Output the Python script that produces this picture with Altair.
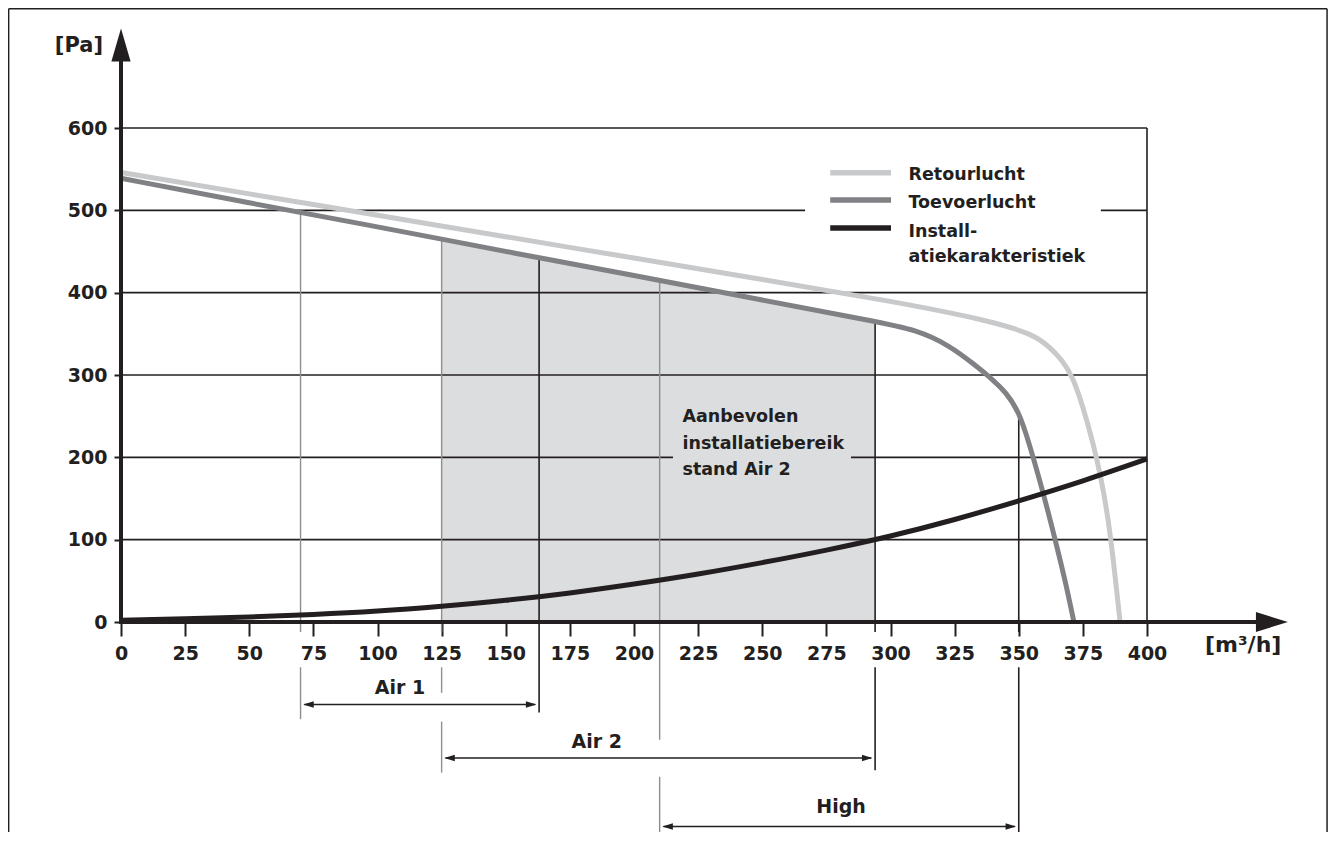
import altair as alt
import pandas as pd

FONT = "DejaVu Sans"
INK = "#231f20"
SHADE = "#dcdddf"
GRAYLINE = "#8d8e91"

# ---------------- data ----------------
series_names = ["Retourlucht", "Toevoerlucht", "Installatiekarakteristiek"]
series_colors = ["#c8c9cb", "#808184", "#231f20"]
legend_text = ["Retourlucht", "Toevoerlucht", "Install-\natiekarakteristiek"]

retour_x = [0, 50, 100, 150, 200, 250, 300, 339, 356, 362, 367, 371, 375, 379, 382, 385.5, 389.5]
retour_y = [546, 520, 494, 468, 442, 416, 390, 366, 349, 334, 318, 298, 262, 217, 177, 116, 0]

toevoer_x = [0, 50, 100, 125, 150, 200, 250, 294, 310, 323, 333, 340, 345, 350, 354, 360, 365, 368.5, 371.5]
toevoer_y = [539, 509, 480, 465, 450, 421, 391, 365, 355, 336, 312, 294, 279, 256, 218, 152, 90, 45, 0]

install_x = [0, 25, 50, 75, 100, 125, 150, 175, 200, 225, 250, 275, 300, 325, 350, 375, 400]
install_y = [2, 4, 6, 9, 13, 19, 26, 35, 46, 58, 72, 87, 104, 124, 147, 171, 198]

x_ticks = [0, 25, 50, 75, 100, 125, 150, 175, 200, 225, 250, 275, 300, 325, 350, 375, 400]
y_ticks = [0, 100, 200, 300, 400, 500, 600]
grid_y = [100, 200, 300, 400, 500, 600]

range_names = ["Air 1", "Air 2", "High"]
range_start = [70, 125, 210]
range_end = [163, 294, 350]
range_start_top = [498, 465, 415]   # supply pressure where the start line meets the curve
range_end_top = [442, 365, 256]     # supply pressure where the end line meets the curve

recommended_text = "Aanbevolen\ninstallatiebereik\nstand Air 2"
recommended_from = 125
recommended_to = 294

x_unit = "[m³/h]"
y_unit = "[Pa]"

# ---------------- scales / axes ----------------
XS = alt.Scale(domain=[0, 400], nice=False, zero=False)
YS = alt.Scale(domain=[0, 600], nice=False, zero=False)
x_axis = alt.Axis(values=x_ticks, title=None, grid=False, domain=False, ticks=True,
                  tickSize=14, tickWidth=2, tickColor=INK, labelFont=FONT,
                  labelFontWeight="bold", labelFontSize=19, labelColor=INK,
                  labelPadding=8, labelFlush=False, labelOverlap=False, format="d")
y_axis = alt.Axis(values=y_ticks, title=None, grid=False, domain=False, ticks=True,
                  tickSize=7, tickWidth=2, tickColor=INK, labelFont=FONT,
                  labelFontWeight="bold", labelFontSize=19, labelColor=INK,
                  labelPadding=7, format="d")


def X(f):
    return alt.X(f, type="quantitative", scale=XS, axis=x_axis)


def Y(f):
    return alt.Y(f, type="quantitative", scale=YS, axis=y_axis)


def segs(rows):
    return pd.DataFrame(rows, columns=["x", "y", "x2", "y2"])


def rule_layer(df, color, width, cap="butt"):
    return alt.Chart(df).mark_rule(color=color, strokeWidth=width, strokeCap=cap).encode(
        x=X("x"), y=Y("y"), x2="x2:Q", y2="y2:Q")


layers = []

# outer frame (open at the bottom)
FL, FR, FT, FB = -43.8, 470.2, 744.9, -320
layers.append(rule_layer(segs([(FL, FB, FL, FT), (FR, FB, FR, FT), (FL, FT, FR, FT)]), INK, 1.5))

# recommended installation range (shaded under supply curve)
toevoer_df = pd.DataFrame({"x": toevoer_x, "y": toevoer_y})
shade = alt.Chart(toevoer_df).transform_filter(
    (alt.datum.x >= recommended_from) & (alt.datum.x <= recommended_to)
).transform_calculate(base="0").mark_area(color=SHADE, opacity=1, interpolate="linear").encode(
    x=X("x"), y=Y("y"), y2="base:Q")
layers.append(shade)

# grid
grid_rows = [(0, g, 400, g) for g in grid_y] + [(400, 0, 400, 600)]
layers.append(rule_layer(segs(grid_rows), INK, 1.6))

# gaps in grid behind legend and annotation
gap_df = pd.DataFrame({"x": [266.7], "x2": [382.0], "y": [430], "y2": [562]})
layers.append(alt.Chart(gap_df).mark_rect(color="white").encode(x=X("x"), x2="x2:Q", y=Y("y"), y2="y2:Q"))
gap2_df = pd.DataFrame({"x": [215.2], "x2": [284.6], "y": [166], "y2": [275]})
layers.append(alt.Chart(gap2_df).mark_rect(color=SHADE).encode(x=X("x"), x2="x2:Q", y=Y("y"), y2="y2:Q"))

# vertical marker lines (start lines gray, end lines black), with gaps at labels / arrows
s70, s125, s210 = range_start
e163, e294, e350 = range_end
gray_rows = [
    (s70, range_start_top[0], s70, -12), (s70, -55, s70, -118),
    (s125, range_start_top[1], s125, -12), (s125, -55, s125, -86), (s125, -121, s125, -183),
    (s210, range_start_top[2], s210, -143), (s210, -188, s210, -320),
]
black_rows = [
    (e163, range_end_top[0], e163, -110),
    (e294, range_end_top[1], e294, -12), (e294, -55, e294, -180),
    (e350, range_end_top[2], e350, -12), (e350, -55, e350, -320),
]
layers.append(rule_layer(segs(gray_rows), GRAYLINE, 1.4))
layers.append(rule_layer(segs(black_rows), INK, 1.6))

# curves
cscale = alt.Scale(domain=series_names, range=series_colors)
curve_data = [(retour_x, retour_y), (toevoer_x, toevoer_y), (install_x, install_y)]
for name, (cx, cy) in zip(series_names, curve_data):
    df = pd.DataFrame({"x": cx, "y": cy, "series": name})
    layers.append(alt.Chart(df).mark_line(strokeWidth=5, interpolate="basis", strokeCap="butt").encode(
        x=X("x"), y=Y("y"), color=alt.Color("series:N", scale=cscale, legend=None)))

# axes with arrows
layers.append(rule_layer(segs([(0, 0, 0, 680.5), (0, 0, 442.5, 0)]), INK, 4, cap="square"))
arrow_up = "M-0.58,1L0,-1L0.58,1Z"
arrow_right = "M-1,-0.62L1,0L-1,0.62Z"
layers.append(alt.Chart(pd.DataFrame({"x": [0], "y": [700.8]})).mark_point(
    shape=arrow_up, filled=True, size=1100, opacity=1, color=INK, strokeWidth=0).encode(x=X("x"), y=Y("y")))
layers.append(alt.Chart(pd.DataFrame({"x": [448.7], "y": [0]})).mark_point(
    shape=arrow_right, filled=True, size=1024, opacity=1, color=INK, strokeWidth=0).encode(x=X("x"), y=Y("y")))

# dimension arrows for the operating ranges
dim_y = [-100.2, -165.2, -248.4]
dims = pd.DataFrame({"name": range_names, "start": range_start, "end": range_end, "ypos": dim_y})
layers.append(alt.Chart(dims).transform_calculate(a="datum.start + 1.5", b="datum.end - 1.5").mark_rule(
    color=INK, strokeWidth=1.4).encode(x=X("a:Q"), x2="b:Q", y=Y("ypos")))
head_r = "M-1,-0.6L1,0L-1,0.6Z"
head_l = "M1,-0.6L-1,0L1,0.6Z"
layers.append(alt.Chart(dims).transform_calculate(hx="datum.end - 3.1").mark_point(
    shape=head_r, filled=True, size=110, opacity=1, color=INK, strokeWidth=0).encode(x=X("hx:Q"), y=Y("ypos")))
layers.append(alt.Chart(dims).transform_calculate(hx="datum.start + 3.1").mark_point(
    shape=head_l, filled=True, size=110, opacity=1, color=INK, strokeWidth=0).encode(x=X("hx:Q"), y=Y("ypos")))
dim_lab = pd.DataFrame({"name": range_names, "x": [108.8, 185.5, 280.7], "y": [-87.5, -153, -232]})
layers.append(alt.Chart(dim_lab).mark_text(font=FONT, fontWeight="bold", fontSize=19, color=INK,
                                           align="center", baseline="alphabetic").encode(
    x=X("x"), y=Y("y"), text="name:N"))

# legend (manual, inside the plot)
leg = pd.DataFrame({"series": series_names, "label": legend_text,
                    "x": [276.5] * 3, "x2": [300.2] * 3,
                    "y": [545.7, 512.6, 478.6], "ty": [536.9, 502.9, 467.3]})
layers.append(alt.Chart(leg).mark_rule(strokeWidth=5.5).encode(
    x=X("x"), x2="x2:Q", y=Y("y"), color=alt.Color("series:N", scale=cscale, legend=None)))
layers.append(alt.Chart(leg).transform_calculate(tx="307").mark_text(
    font=FONT, fontWeight="bold", fontSize=17.5, color=INK, align="left", baseline="alphabetic",
    lineBreak="\n", lineHeight=24.4).encode(x=X("tx:Q"), y=Y("ty"), text="label:N"))

# annotation of the recommended range
ann = pd.DataFrame({"label": [recommended_text], "x": [218.9], "y": [243]})
layers.append(alt.Chart(ann).mark_text(font=FONT, fontWeight="bold", fontSize=17.5, color=INK,
                                       align="left", baseline="alphabetic", lineBreak="\n",
                                       lineHeight=26.7).encode(x=X("x"), y=Y("y"), text="label:N"))

# axis unit labels
units = pd.DataFrame({"label": [y_unit, x_unit], "x": [-7.0, 437.5], "y": [692.7, -36.4]})
layers.append(alt.Chart(units.iloc[[0]]).mark_text(font=FONT, fontWeight="bold", fontSize=21, color=INK,
                                                   align="right", baseline="alphabetic").encode(
    x=X("x"), y=Y("y"), text="label:N"))
layers.append(alt.Chart(units.iloc[[1]]).mark_text(font=FONT, fontWeight="bold", fontSize=22, color=INK,
                                                   align="center", baseline="alphabetic").encode(
    x=X("x"), y=Y("y"), text="label:N"))

chart = alt.layer(*layers).properties(
    width=1026, height=494,
    padding={"left": 113, "top": 120, "right": 181, "bottom": 210},
    autosize=alt.AutoSizeParams(type="none"),
    background="white",
).configure_view(stroke=None)

chart.save("out.html", embed_options={"renderer": "svg", "actions": False})
